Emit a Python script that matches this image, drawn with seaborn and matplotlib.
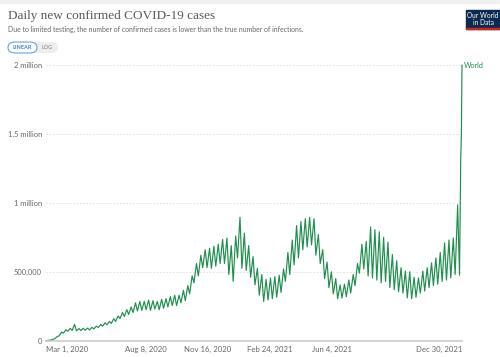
import matplotlib
matplotlib.use("Agg")
import matplotlib.pyplot as plt
from matplotlib.patches import FancyBboxPatch, Rectangle
import seaborn as sns
import pandas as pd

# data, thousands of cases
start = "2020-03-01"
weekly_low = [0, 4, 14, 35, 55, 68, 74, 72, 74, 76, 78, 85, 95, 105, 115, 125,
              140, 160, 175, 190, 205, 215, 220, 225, 220, 230, 225, 235, 245, 255,
              255, 275, 290, 340, 420, 470, 530, 530, 525, 540, 560, 560, 480, 430,
              600, 525, 510, 460, 405, 330, 285, 295, 305, 315, 350, 430, 480, 550,
              600, 660, 680, 695, 620, 560, 450, 385, 340, 305, 310, 320, 345, 400,
              490, 520, 470, 455, 440, 420, 430, 385, 370, 355, 345, 310, 305, 315,
              345, 360, 385, 400, 410, 430, 440, 455, 480, 475]
weekly_high = [3, 10, 30, 62, 80, 90, 118, 88, 90, 92, 97, 106, 118, 130, 140, 160,
               180, 205, 225, 245, 275, 285, 285, 295, 290, 285, 300, 305, 320, 330,
               330, 365, 400, 470, 560, 620, 660, 670, 685, 700, 735, 745, 690, 760,
               895, 780, 690, 610, 525, 480, 445, 455, 465, 475, 520, 640, 730, 835,
               865, 885, 895, 885, 770, 660, 570, 500, 450, 405, 410, 440, 480, 560,
               700, 720, 825, 805, 790, 750, 715, 625, 580, 530, 505, 500, 460, 455,
               505, 530, 565, 600, 640, 710, 730, 745, 985, 2000]
end_days = ["2021-12-28", "2021-12-29"]
end_vals = [1330, 1490]

y_ticks = [0, 500000, 1000000, 1500000, 2000000]
y_tick_labels = ["0", "500,000", "1 million", "1.5 million", "2 million"]
x_ticks = ["2020-03-01", "2020-08-08", "2020-11-16", "2021-02-24", "2021-06-04", "2021-12-30"]
x_tick_labels = ["Mar 1, 2020", "Aug 8, 2020", "Nov 16, 2020", "Feb 24, 2021", "Jun 4, 2021", "Dec 30, 2021"]

t0 = pd.Timestamp(start)
rows = []
for i, (lo, hi) in enumerate(zip(weekly_low, weekly_high)):
    rows.append((t0 + pd.Timedelta(days=7 * i), lo))
    rows.append((t0 + pd.Timedelta(days=7 * i + 4), hi))
for d, v in zip(end_days, end_vals):
    rows.append((pd.Timestamp(d), v))
df = pd.DataFrame(rows, columns=["date", "cases"]).sort_values("date")
df["cases"] = df["cases"] * 1000

sns.set_style("white")
plt.rcParams["font.family"] = ["Lato", "DejaVu Sans"]

W, H = 500, 357
fig = plt.figure(figsize=(5, 3.57), dpi=100)
ax = fig.add_axes([46 / W, 1 - 340.7 / H, 416 / W, (340.7 - 65) / H])

green = "#1f8f4e"
sns.lineplot(data=df, x="date", y="cases", ax=ax, color=green, linewidth=0.85, clip_on=False)

ax.set_xlim(pd.Timestamp("2020-03-01"), pd.Timestamp("2021-12-30"))
ax.set_ylim(0, 2000000)
ax.set_xlabel("")
ax.set_ylabel("")
ax.set_yticks(y_ticks)
ax.set_yticklabels(y_tick_labels)
ax.set_xticks([pd.Timestamp(d) for d in x_ticks])
ax.set_xticklabels(x_tick_labels)
for i, lab in enumerate(ax.get_xticklabels()):
    if i == 0:
        lab.set_ha("left")
    elif i == len(x_ticks) - 1:
        lab.set_ha("right")
ax.tick_params(axis="y", length=0, labelsize=5.4, labelcolor="#666666", pad=3)
ax.tick_params(axis="x", length=3, width=0.8, color="#cccccc", labelsize=5.6, labelcolor="#666666", pad=1)
for s in ["top", "right", "left"]:
    ax.spines[s].set_visible(False)
ax.spines["bottom"].set_color("#cccccc")
ax.spines["bottom"].set_linewidth(1.2)
for y in y_ticks[1:]:
    ax.axhline(y, color="#dddddd", lw=0.6, ls=(0, (2, 2)), zorder=0)

ax.text(pd.Timestamp("2021-12-30") + pd.Timedelta(days=3), 2000000, "World",
        color=green, fontsize=5.2, va="center", ha="left", clip_on=False)

# header
fig.patches.append(Rectangle((0, 1 - 3 / H), 1, 3 / H, transform=fig.transFigure,
                             color="#f0f0f0", zorder=0))
fig.text(8 / W, 1 - 16 / H, "Daily new confirmed COVID-19 cases", fontsize=9.5,
         family="Liberation Serif", color="#5a5a5a", va="center", ha="left")
fig.text(8 / W, 1 - 29 / H,
         "Due to limited testing, the number of confirmed cases is lower than the true number of infections.",
         fontsize=4.95, color="#666666", va="center", ha="left")

fig.patches.append(FancyBboxPatch((8 / W, 1 - 53 / H), 50 / W, 11 / H, transform=fig.transFigure,
                                  boxstyle="round,pad=0,rounding_size=0.015", fc="#eeeeee", ec="none"))
fig.patches.append(FancyBboxPatch((8 / W, 1 - 53 / H), 29 / W, 11 / H, transform=fig.transFigure,
                                  boxstyle="round,pad=0,rounding_size=0.015", fc="white", ec="#6aa3e0", lw=0.8))
fig.text(22.5 / W, 1 - 47.5 / H, "LINEAR", fontsize=4, color="#3b7dd8", ha="center", va="center", weight="bold")
fig.text(47.5 / W, 1 - 47.5 / H, "LOG", fontsize=4, color="#777777", ha="center", va="center")

fig.patches.append(Rectangle((466 / W, 1 - 29 / H), 34 / W, 19 / H, transform=fig.transFigure,
                             color="#0b2a4f", zorder=1))
fig.patches.append(Rectangle((466 / W, 1 - 29 / H), 34 / W, 1.5 / H, transform=fig.transFigure,
                             color="#ce261e", zorder=2))
fig.text(483 / W, 1 - 15 / H, "Our World", fontsize=4.8, color="white", ha="center", va="center")
fig.text(483 / W, 1 - 22.5 / H, "in Data", fontsize=4.8, color="white", ha="center", va="center")

fig.savefig("out.png", dpi=100)
